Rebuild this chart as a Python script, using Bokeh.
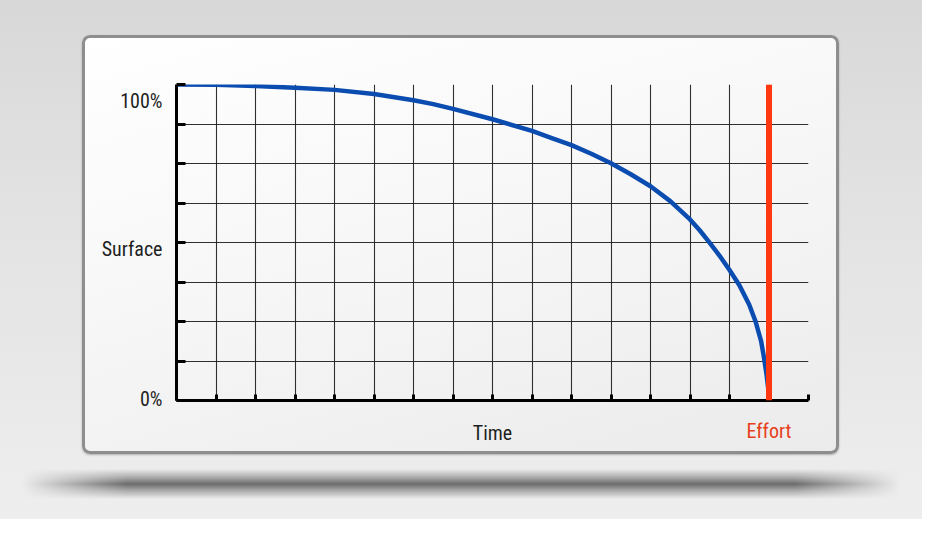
from bokeh.plotting import figure
from bokeh.layouts import column
from bokeh.models import Range1d, FixedTicker, Span, Div
from bokeh.embed import file_html
from bokeh.resources import INLINE

# ---- data ----
time = [0, 1, 2, 3, 4, 5, 6, 6.5, 7, 8, 9, 9.5, 10, 10.5, 11, 11.5, 12, 12.5, 13, 13.25,
        13.5, 13.75, 14, 14.25, 14.5, 14.66, 14.8, 14.87, 14.94, 14.98, 15]
surface = [100, 99.9, 99.5, 99.0, 98.3, 97.0, 95.0, 93.8, 92.3, 89.0, 85.3, 83.0, 80.8,
           78.1, 75.1, 71.6, 67.8, 63.1, 57.3, 53.8, 49.9, 45.8, 41.3, 36.5, 30.3, 25.0,
           18.8, 13.8, 8.1, 3.8, 0]
effort_time = 15
time_ticks = list(range(0, 17))
surface_ticks = [0, 12.5, 25, 37.5, 50, 62.5, 75, 87.5, 100]
y_label_pos = [0.6, 48.1, 94.9]
y_label_text = ["0%", "Surface", "100%"]
x_axis_title = "Time"
effort_text = "Effort"

FONT = "Roboto Condensed"

p = figure(width=757, height=419, output_backend="svg", toolbar_location=None,
           x_range=Range1d(0, 16), y_range=Range1d(0, 100),
           min_border_left=94, min_border_right=31, min_border_top=49, min_border_bottom=54)
p.margin = (35, 0, 0, 82)
p.border_fill_alpha = 0
p.background_fill_alpha = 0
p.outline_line_color = None
p.styles = {
    "background": "linear-gradient(165deg, #ffffff 0%, #f7f7f7 45%, #ebebeb 100%)",
    "border-radius": "8px",
    "box-shadow": "inset 0 0 0 3px #8e8e8e, 0 1px 2px rgba(0,0,0,0.25)",
}

# grid
p.xgrid.ticker = FixedTicker(ticks=time_ticks)
p.ygrid.ticker = FixedTicker(ticks=surface_ticks)
for g in (p.xgrid, p.ygrid):
    g.grid_line_color = "#1a1a1a"
    g.grid_line_width = 1.1
    g.grid_line_alpha = 0.9

# axes
xa = p.xaxis[0]
xa.ticker = FixedTicker(ticks=[effort_time], minor_ticks=time_ticks)
xa.major_label_overrides = {effort_time: effort_text}
xa.axis_label = x_axis_title
ya = p.yaxis[0]
ya.ticker = FixedTicker(ticks=y_label_pos, minor_ticks=surface_ticks)
ya.major_label_overrides = {y: t for y, t in zip(y_label_pos, y_label_text)}
for ax in (xa, ya):
    ax.axis_line_width = 3
    ax.axis_line_color = "black"
    ax.major_tick_in = 0
    ax.major_tick_out = 0
    ax.minor_tick_out = 0
    ax.minor_tick_line_color = "black"
    ax.minor_tick_line_width = 3
    ax.major_label_text_font = FONT
    ax.major_label_text_font_size = "20px"
ya.major_label_text_color = "#1f1f1f"
xa.major_label_text_color = "#e8401c"
xa.axis_label_text_font = FONT
xa.axis_label_text_font_size = "20px"
xa.axis_label_text_font_style = "normal"
xa.axis_label_text_color = "#1f1f1f"
xa.axis_label_standoff = -25
xa.minor_tick_in = 6
ya.minor_tick_in = 9
xa.major_label_standoff = 18
ya.major_label_standoff = 14

# curve
p.line(time, surface, line_color="#0b4cb0", line_width=4.5, line_join="round")

# effort line
p.add_layout(Span(location=effort_time, dimension="height", line_color="#ff3810", line_width=6))

shadow = Div(text="", width=878, height=30, margin=(15, 0, 0, 22),
             styles={"background": "linear-gradient(to bottom, rgba(0,0,0,0) 0%, rgba(0,0,0,0.3) 30%, rgba(0,0,0,0.55) 50%, rgba(0,0,0,0.3) 70%, rgba(0,0,0,0) 100%)",
                     "-webkit-mask-image": "linear-gradient(to right, transparent 0%, black 12%, black 88%, transparent 100%)",
                     "mask-image": "linear-gradient(to right, transparent 0%, black 12%, black 88%, transparent 100%)"})

page = column(p, shadow, width=922, height=519,
              styles={"background": "linear-gradient(to bottom, #d8d8d8 0%, #e1e1e1 35%, #e9e9e9 75%, #eeeeee 100%)"})

open("out.html", "w").write(file_html(page, INLINE))
